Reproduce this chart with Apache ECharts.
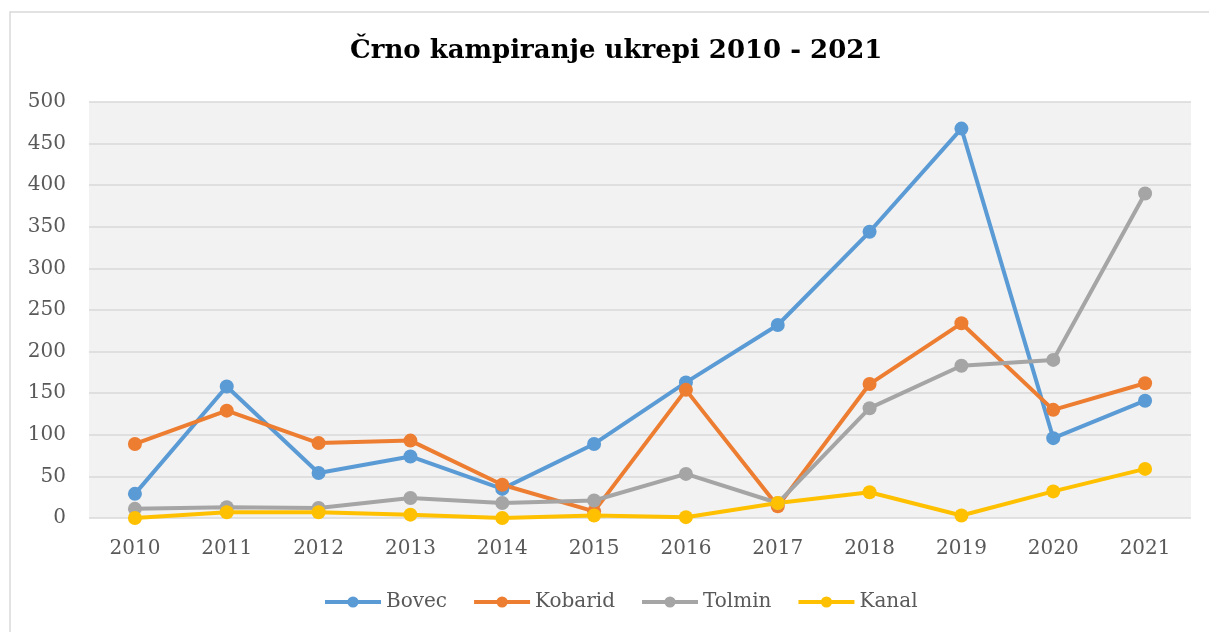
<!DOCTYPE html>
<html>
<head>
<meta charset="utf-8">
<script src="https://cdn.jsdelivr.net/npm/echarts@6/dist/echarts.min.js"></script>
<style>
html,body{margin:0;padding:0;background:#fff;}
#chart{width:1209px;height:632px;}
</style>
</head>
<body>
<div id="chart"></div>
<script>
const titleText = 'Črno kampiranje ukrepi 2010 - 2021';
const years = ['2010','2011','2012','2013','2014','2015','2016','2017','2018','2019','2020','2021'];
const bovec   = [29, 158, 54, 74, 35, 89, 163, 232, 344, 468, 96, 141];
const kobarid = [89, 129, 90, 93, 40, 8, 154, 14, 161, 234, 130, 162];
const tolmin  = [11, 13, 12, 24, 18, 21, 53, 18, 132, 183, 190, 390];
const kanal   = [0, 7, 7, 4, 0, 3, 1, 18, 31, 3, 32, 59];
const seriesNames = ['Bovec','Kobarid','Tolmin','Kanal'];
const seriesData = [bovec, kobarid, tolmin, kanal];
const colors = ['#5B9BD5','#ED7D31','#A5A5A5','#FFC000'];
const yTicks = {min:0, max:500, interval:50};

const font = '"DejaVu Serif", serif';
const chart = echarts.init(document.getElementById('chart'));
chart.setOption({
  animation:false,
  color: colors,
  title:{
    text:titleText, left:345, top:33,
    textStyle:{fontFamily:font, fontSize:26, fontWeight:'bold', color:'#000'}
  },
  graphic:[{
    type:'rect', silent:true, z:-10,
    shape:{x:10, y:12, width:1260, height:700},
    style:{fill:'none', stroke:'#D9D9D9', lineWidth:1.5}
  }],
  legend:{
    data:seriesNames, bottom:15, left:318,
    itemWidth:56, itemHeight:14, itemGap:25,
    lineStyle:{width:4},
    textStyle:{fontFamily:font, fontSize:20, color:'#595959'}
  },
  grid:{left:89, right:18, top:102, bottom:114, show:true, backgroundColor:'#F2F2F2', borderWidth:0},
  xAxis:{
    type:'category', data:years, boundaryGap:true,
    axisLine:{show:false}, axisTick:{show:false},
    axisLabel:{fontFamily:font, fontSize:20, color:'#595959', margin:21}
  },
  yAxis:{
    type:'value', min:yTicks.min, max:yTicks.max, interval:yTicks.interval,
    axisLine:{show:false}, axisTick:{show:false},
    axisLabel:{fontFamily:font, fontSize:20, color:'#595959', margin:23},
    splitLine:{lineStyle:{color:'#D9D9D9', width:1.5}}
  },
  series: seriesNames.map((n,i)=>({
    name:n, type:'line', data:seriesData[i],
    symbol:'circle', symbolSize:14,
    lineStyle:{width:4, color:colors[i]},
    itemStyle:{color:colors[i]}
  }))
});
</script>
</body>
</html>
